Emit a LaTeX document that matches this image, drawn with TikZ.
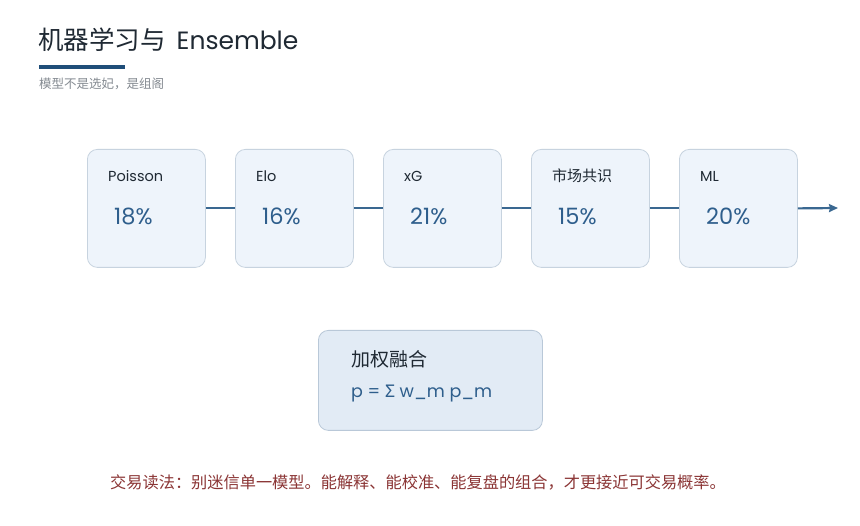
\documentclass[tikz,border=0pt]{standalone}
\usepackage{fontspec}
\setmainfont{Noto Sans CJK SC}
\newfontfamily\latinf{Poppins}
\usetikzlibrary{arrows.meta}
\definecolor{titlec}{HTML}{1F2933}
\definecolor{barc}{HTML}{1F4E79}
\definecolor{subc}{HTML}{858B92}
\definecolor{boxfill}{HTML}{EEF4FB}
\definecolor{boxline}{HTML}{C7D3DF}
\definecolor{pctc}{HTML}{2E5E8C}
\definecolor{linkc}{HTML}{3A6891}
\definecolor{fusefill}{HTML}{E2EBF5}
\definecolor{fuseline}{HTML}{B9C8D8}
\definecolor{footc}{HTML}{8B3535}
\tikzset{
  modelbox/.style={draw=boxline, fill=boxfill, line width=0.8pt, rounded corners=10pt,
    minimum width=118pt, minimum height=118pt, inner sep=0pt},
  mlabel/.style={anchor=west, font=\fontsize{15}{18}\selectfont, text=titlec, inner sep=0pt},
  mpct/.style={anchor=west, font=\latinf\fontsize{22.5}{26}\selectfont, text=pctc, inner sep=0pt},
  link/.style={draw=linkc, line width=2.2pt},
}
\begin{document}
\begin{tikzpicture}[x=1pt,y=-1pt]
\useasboundingbox (0,0) rectangle (860,526);
\fill[white] (0,0) rectangle (860,526);
% title
\node[anchor=west, inner sep=0pt, font=\fontsize{25.5}{30}\selectfont, text=titlec] (title) at (38,40) {机器学习与\hspace{11pt}{\latinf\fontsize{25}{30}\selectfont Ensemble}};
\fill[barc] (39,65) rectangle (125,69);
\node[anchor=west, inner sep=0pt, font=\fontsize{12.5}{15}\selectfont, text=subc] (sub) at (39,84) {模型不是选妃，是组阁};
% model boxes
\foreach \n/\x/\lab/\p in {b1/87/{\latinf\fontsize{14.5}{18}\selectfont Poisson}/18\%, b2/235/{\latinf\fontsize{14.5}{18}\selectfont Elo}/16\%, b3/383/{\latinf\fontsize{14.5}{18}\selectfont xG}/21\%, b4/531/市场共识/15\%, b5/679/{\latinf\fontsize{14.5}{18}\selectfont ML}/20\%}{
  \node[modelbox, anchor=north west] (\n) at (\x,149) {};
  \node[mlabel] (\n l) at (\x+21,176) {\lab};
  \node[mpct] (\n p) at (\x+27,216) {\p};
}
\coordinate (end) at (838,208);
\draw[link] (b1.east) -- (b2.west);
\draw[link] (b2.east) -- (b3.west);
\draw[link] (b3.east) -- (b4.west);
\draw[link] (b4.east) -- (b5.west);
\draw[link, -{Stealth[length=9pt,width=8pt,inset=1pt]}] (b5.east) -- (end);
% fusion box
\node[draw=fuseline, fill=fusefill, line width=0.8pt, rounded corners=10pt, anchor=north west,
  minimum width=224pt, minimum height=100pt, inner sep=0pt] (fuse) at (318,330) {};
\node[anchor=west, inner sep=0pt, font=\fontsize{19}{23}\selectfont, text=titlec] (fuset) at (351,359) {加权融合};
\node[anchor=west, inner sep=0pt, font=\latinf\fontsize{17.5}{22}\selectfont, text=pctc] (fusef) at (351,394) {p = {\fontspec{Noto Sans}Σ} w\_m p\_m};
% footer
\node[anchor=west, inner sep=0pt, font=\fontsize{16.2}{19}\selectfont, text=footc] (foot) at (110,482) {交易读法：别迷信单一模型。能解释、能校准、能复盘的组合，才更接近可交易概率。};
\end{tikzpicture}
\end{document}
